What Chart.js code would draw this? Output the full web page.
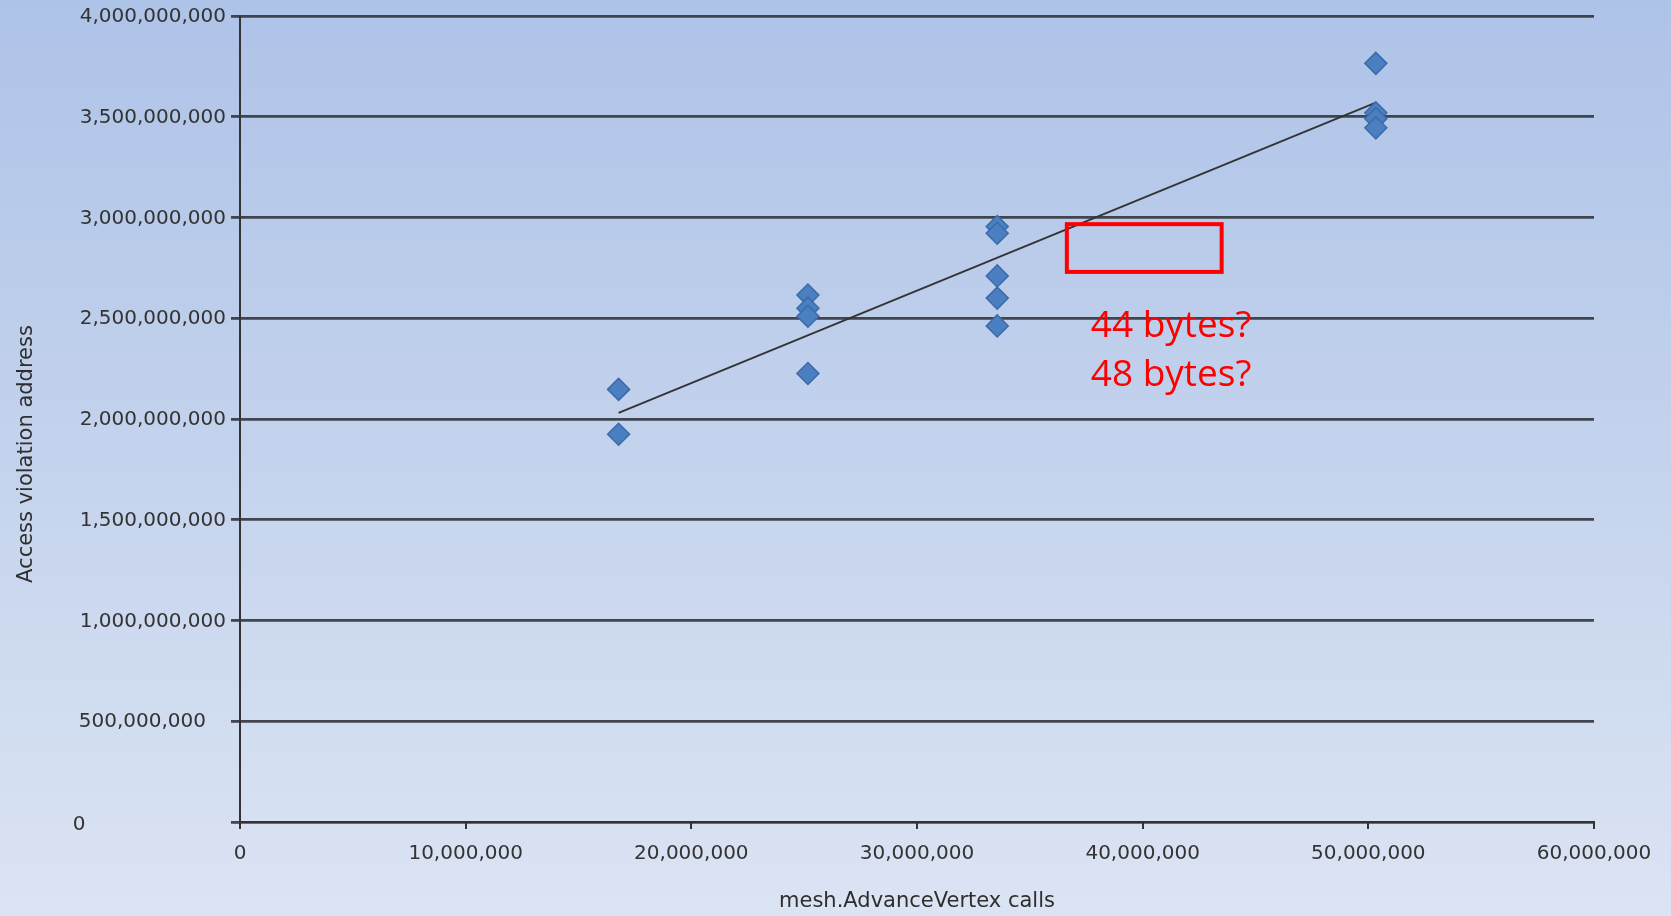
<!DOCTYPE html>
<html>
<head>
<meta charset="utf-8">
<script src="https://cdn.jsdelivr.net/npm/chart.js@4.4.1/dist/chart.umd.min.js"></script>
<style>
  html, body { margin: 0; padding: 0; width: 1671px; height: 916px; overflow: hidden;
    background: linear-gradient(to bottom, #aec3e8 0%, #c4d3ed 50%, #dbe4f3 100%); }
  canvas { display: block; }
</style>
</head>
<body>
<canvas id="c" width="1671" height="916"></canvas>
<script>
// ---- data ----
const callsX = [16777216, 16777216,
                25165824, 25165824, 25165824, 25165824,
                33554432, 33554432, 33554432, 33554432, 33554432,
                50331648, 50331648, 50331648, 50331648];
const addressY = [2147000000, 1924000000,
                  2615000000, 2550000000, 2510000000, 2226000000,
                  2955000000, 2922000000, 2710000000, 2600000000, 2462000000,
                  3765000000, 3520000000, 3490000000, 3445000000];
const trendX = [16777216, 50331648];
const trendY = [2030000000, 3570000000];
const xTicks = [0, 10000000, 20000000, 30000000, 40000000, 50000000, 60000000];
const yTicks = [0, 500000000, 1000000000, 1500000000, 2000000000, 2500000000, 3000000000, 3500000000, 4000000000];
const xTitle = 'mesh.AdvanceVertex calls';
const yTitle = 'Access violation address';
const noteLines = ['44 bytes?', '48 bytes?'];
const noteBoxX = [36640000, 43500000];
const noteBoxY = [2730000000, 2967000000];
const noteTextAt = [37700000, 2405000000];

const fmt = v => Number(v).toLocaleString('en-US');
const TICK_FONT = '20px "DejaVu Sans"';
const TEXT_COLOR = '#333333';

const scatterPts = callsX.map((x, i) => ({ x: x, y: addressY[i] }));
const trendPts = trendX.map((x, i) => ({ x: x, y: trendY[i] }));

const overlay = {
  id: 'overlay',
  afterDraw(chart) {
    const ctx = chart.ctx;
    const xs = chart.scales.x, ys = chart.scales.y;
    ctx.save();
    // y tick labels (reference places the two lowest labels oddly)
    ctx.font = TICK_FONT;
    ctx.fillStyle = TEXT_COLOR;
    ctx.textBaseline = 'middle';
    yTicks.forEach(v => {
      const py = ys.getPixelForValue(v) + 1;
      const label = fmt(v);
      if (v === 0) { ctx.textAlign = 'center'; ctx.fillText(label, 79, py + 2); }
      else if (v === 500000000) { ctx.textAlign = 'right'; ctx.fillText(label, 206, py); }
      else { ctx.textAlign = 'right'; ctx.fillText(label, 226, py); }
    });
    // y axis title
    ctx.save();
    ctx.translate(27, 454);
    ctx.rotate(-Math.PI / 2);
    ctx.font = '21px "DejaVu Sans"';
    ctx.textAlign = 'center';
    ctx.textBaseline = 'middle';
    ctx.fillStyle = '#2e2e2e';
    ctx.fillText(yTitle, 0, 0);
    ctx.restore();
    // red annotation box
    const x1 = xs.getPixelForValue(noteBoxX[0]), x2 = xs.getPixelForValue(noteBoxX[1]);
    const y1 = ys.getPixelForValue(noteBoxY[1]), y2 = ys.getPixelForValue(noteBoxY[0]);
    ctx.strokeStyle = '#ff0000';
    ctx.lineWidth = 4;
    ctx.strokeRect(x1, y1, x2 - x1, y2 - y1);
    // red annotation text
    ctx.font = '37px "Open Sans"';
    ctx.fillStyle = '#ff0000';
    ctx.textAlign = 'left';
    ctx.textBaseline = 'alphabetic';
    const tx = xs.getPixelForValue(noteTextAt[0]);
    const ty = ys.getPixelForValue(noteTextAt[1]);
    noteLines.forEach((t, i) => ctx.fillText(t, tx, ty + i * 49));
    ctx.restore();
  }
};

new Chart(document.getElementById('c'), {
  type: 'scatter',
  data: {
    datasets: [
      {
        label: 'Access violation address',
        data: scatterPts,
        pointStyle: 'rectRot',
        pointRadius: 11,
        pointHoverRadius: 11,
        backgroundColor: '#4a7fc1',
        borderColor: '#3d6ba8',
        borderWidth: 1.5,
        order: 1
      },
      {
        label: 'Linear trend',
        data: trendPts,
        showLine: true,
        pointRadius: 0,
        borderColor: '#333333',
        borderWidth: 1.8,
        fill: false,
        order: 2
      }
    ]
  },
  options: {
    responsive: false,
    animation: false,
    layout: { padding: { top: 16, right: 77, left: 0, bottom: 0 } },
    plugins: { legend: { display: false }, tooltip: { enabled: false } },
    scales: {
      x: {
        type: 'linear',
        min: 0, max: 60000000,
        afterFit(scale) { scale.height = 94; },
        afterBuildTicks(scale) { scale.ticks = xTicks.map(v => ({ value: v })); },
        ticks: {
          callback: v => fmt(v),
          font: { family: 'DejaVu Sans', size: 20 },
          color: TEXT_COLOR,
          padding: 13,
          maxRotation: 0,
          autoSkip: false
        },
        grid: { drawOnChartArea: false, drawTicks: true, tickLength: 7, color: '#333333', lineWidth: 2 },
        border: { display: true, color: '#333333', width: 2 },
        title: {
          display: true, text: xTitle,
          font: { family: 'DejaVu Sans', size: 21 },
          color: '#2e2e2e',
          padding: { top: 4, bottom: 2 }
        }
      },
      y: {
        type: 'linear',
        min: 0, max: 4000000000,
        afterFit(scale) { scale.width = 240; },
        afterBuildTicks(scale) { scale.ticks = yTicks.map(v => ({ value: v })); },
        ticks: {
          callback: v => fmt(v),
          font: { family: 'DejaVu Sans', size: 20 },
          color: 'rgba(0,0,0,0)',
          autoSkip: false
        },
        grid: { drawOnChartArea: true, drawTicks: true, tickLength: 9, color: 'rgba(50,53,62,0.9)', lineWidth: 2.8 },
        border: { display: true, color: '#333333', width: 2 }
      }
    }
  },
  plugins: [overlay]
});
</script>
</body>
</html>
